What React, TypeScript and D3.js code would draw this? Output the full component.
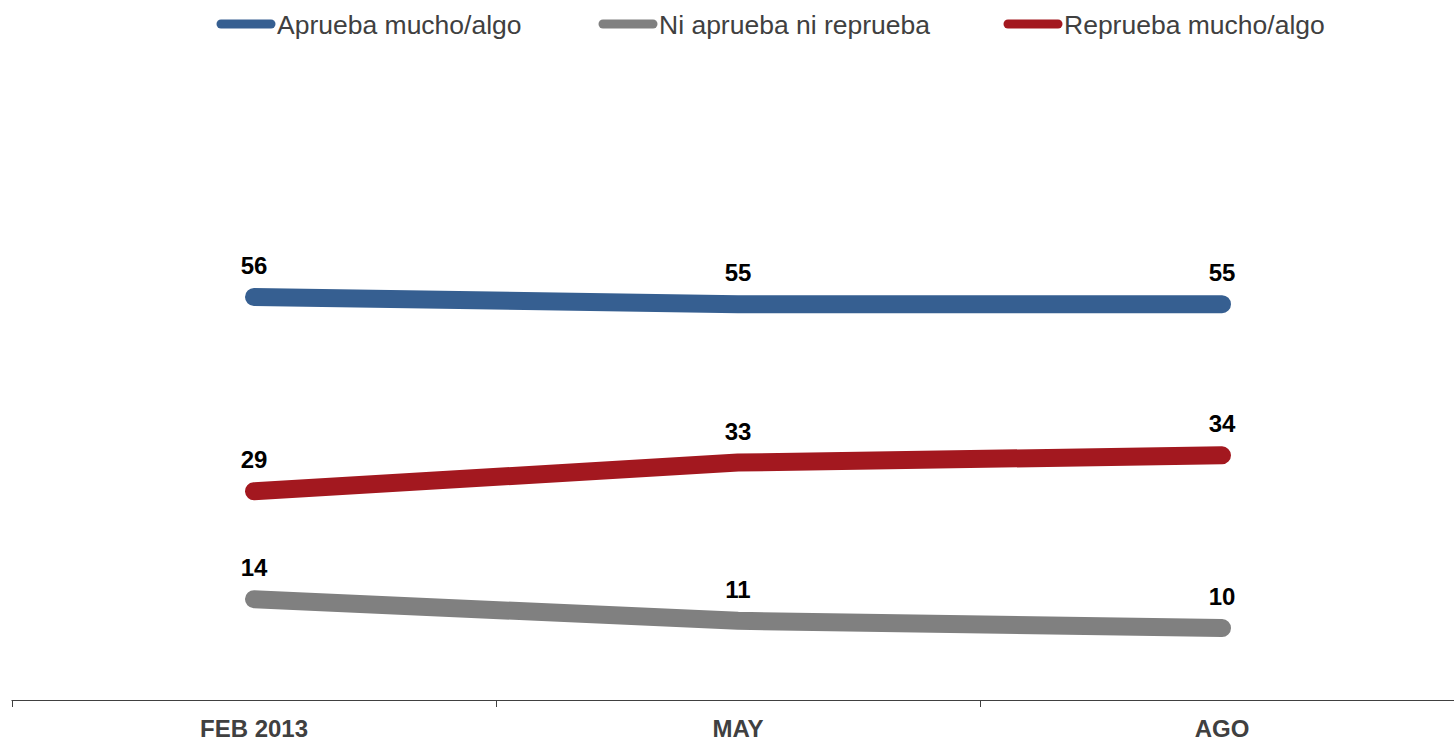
import React from "react";
import * as d3 from "d3";

const categories = ["FEB 2013", "MAY", "AGO"];
const seriesNames = ["Aprueba mucho/algo", "Ni aprueba ni reprueba", "Reprueba mucho/algo"];
const aprueba = [56, 55, 55];
const ni = [14, 11, 10];
const reprueba = [29, 33, 34];
const colors = ["#365F91", "#808080", "#A3181F"];

const W = 1454;
const H = 742;

export default function App() {
  const x = d3.scaleBand<string>().domain(categories).range([12, 1464]);
  const y = d3.scaleLinear().domain([0, 100]).range([700, 700 - 719.6]);
  const seriesData = [aprueba, ni, reprueba];
  const line = d3
    .line<number>()
    .x((_, i) => (x(categories[i]) as number) + x.bandwidth() / 2)
    .y((d) => y(d));
  const legendX = [216, 598, 1003];
  const ticks = [12, ...categories.slice(1).map((c) => x(c) as number)];
  return (
    <svg width={W} height={H} style={{ position: "absolute", left: 0, top: 0, fontFamily: "Liberation Sans, Arial, sans-serif" }}>
      <rect width={W} height={H} fill="#fff" />
      {seriesNames.map((n, i) => (
        <g key={n}>
          <line x1={legendX[i] + 5} x2={legendX[i] + 55} y1={24} y2={24} stroke={colors[i]} strokeWidth={9} strokeLinecap="round" />
          <text x={legendX[i] + 61} y={34} fontSize={26.5} fill="#404040">{n}</text>
        </g>
      ))}
      <line x1={11.5} x2={W} y1={700.5} y2={700.5} stroke="#404040" strokeWidth={1.2} />
      {ticks.map((t, i) => (
        <line key={i} x1={t + 0.5} x2={t + 0.5} y1={700} y2={707} stroke="#404040" strokeWidth={1} />
      ))}
      {categories.map((c) => (
        <text key={c} x={(x(c) as number) + x.bandwidth() / 2} y={737} textAnchor="middle" fontSize={24} fontWeight="bold" fill="#404040">{c}</text>
      ))}
      {seriesData.map((s, si) => (
        <g key={si}>
          <path d={line(s) || ""} fill="none" stroke={colors[si]} strokeWidth={18} strokeLinecap="round" strokeLinejoin="round" />
          {s.map((v, i) => (
            <text key={i} x={(x(categories[i]) as number) + x.bandwidth() / 2} y={y(v) - 23} textAnchor="middle" fontSize={24} fontWeight="bold" fill="#000">{v}</text>
          ))}
        </g>
      ))}
    </svg>
  );
}
